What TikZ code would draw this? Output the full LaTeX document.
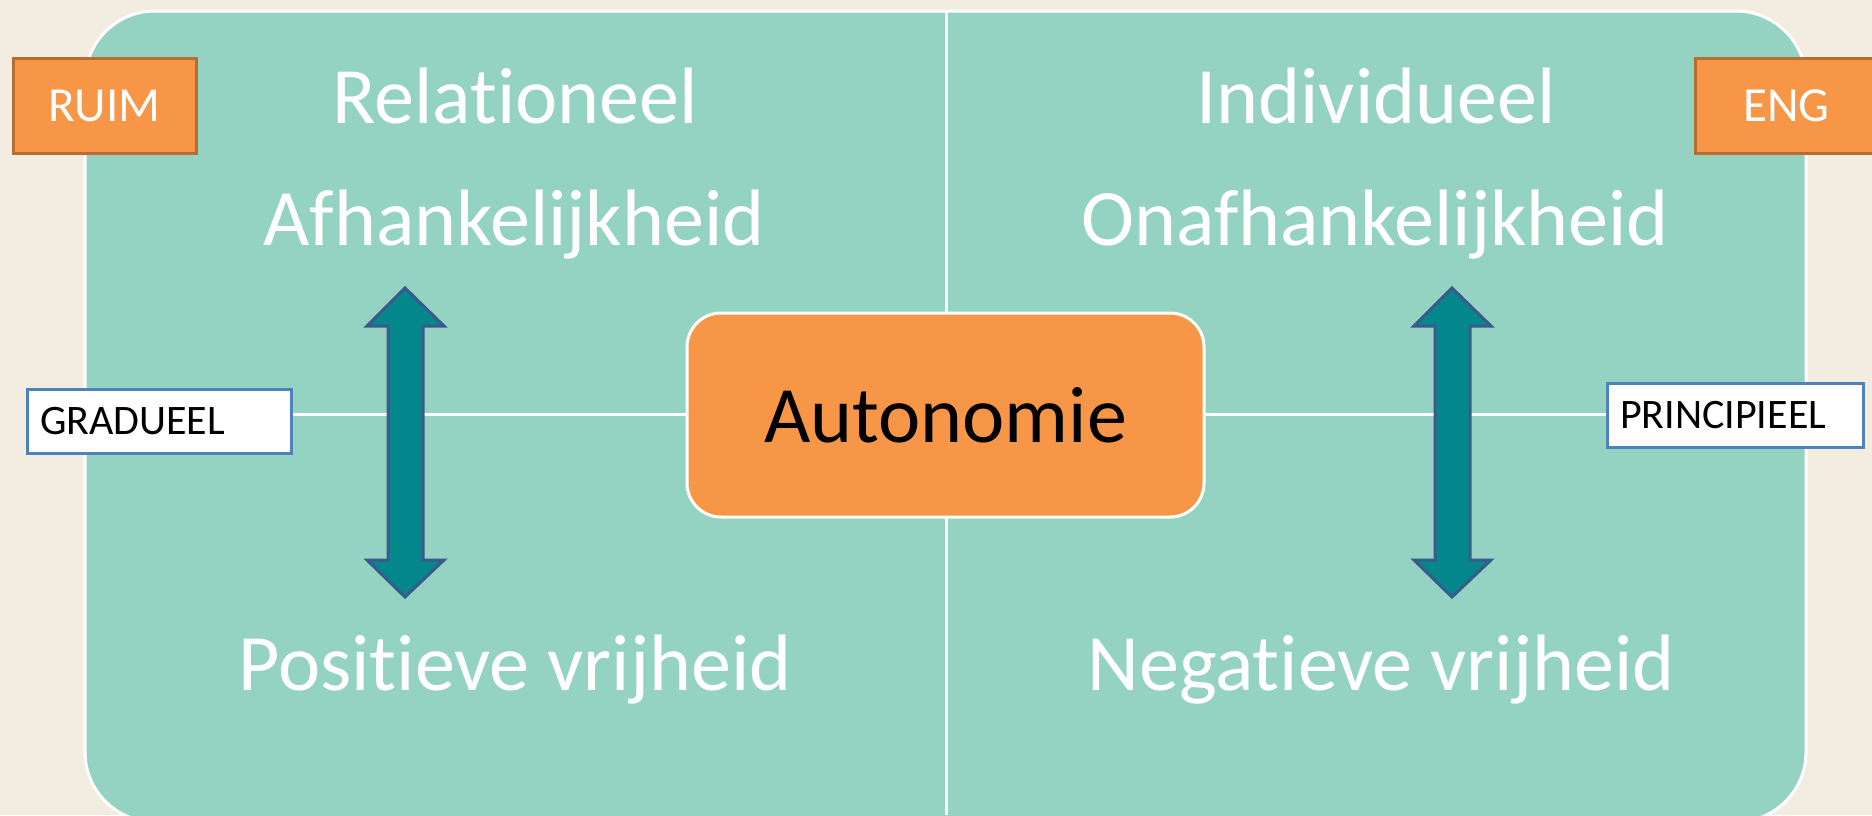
\documentclass[tikz,border=0pt]{standalone}
\usepackage{fontspec}
\setmainfont{Carlito}[Ligatures={NoCommon,NoContextual}]
\definecolor{bgbeige}{HTML}{F3ECE0}
\definecolor{quadfill}{HTML}{94D3C1}
\definecolor{orng}{HTML}{F79646}
\definecolor{orngdark}{HTML}{B66D31}
\definecolor{blueb}{HTML}{4F81BD}
\definecolor{arrowfill}{HTML}{04878A}
\definecolor{arrowline}{HTML}{3B5A8C}
\tikzset{
  maintext/.style={text=white, font=\fontsize{80}{96}\selectfont, inner sep=0pt, anchor=base},
  autobox/.style={draw=white, line width=3pt, fill=orng, rounded corners=34pt, text=black,
    font=\fontsize{80}{96}\selectfont, minimum width=517pt, minimum height=204pt, inner sep=0pt},
  tagbox/.style={draw=orngdark, line width=3pt, fill=orng, text=white,
    font=\fontsize{49}{58}\selectfont, minimum width=183pt, minimum height=95pt, inner sep=0pt},
  scalebox/.style={draw=blueb, line width=3pt, fill=white, text=black,
    font=\fontsize{42}{50}\selectfont, minimum height=64pt, inner xsep=13pt, inner ysep=0pt, align=left},
  bigarrow/.style={fill=arrowfill, draw=arrowline, line width=3pt, line join=miter},
  divider/.style={white, line width=3pt}
}
\begin{document}
\begin{tikzpicture}[x=1pt,y=-1pt]
\useasboundingbox (0,0) rectangle (1872,815);
\fill[bgbeige] (0,0) rectangle (1872,815);
\begin{scope}
  \clip (0,0) rectangle (1872,815);
  \draw[white, line width=3pt, fill=quadfill, rounded corners=70pt] (85,11) rectangle (1806,822);
  \coordinate (vtop) at (946,11);
  \coordinate (vbot) at (946,815);
  \coordinate (hleft) at (85,414);
  \coordinate (hright) at (1806,414);
  \draw[divider] (vtop) -- (vbot);
  \draw[divider] (hleft) -- (hright);
\end{scope}
% arrows
\draw[bigarrow] (405,288) -- (444,326) -- (423,326) -- (423,560) -- (444,560) -- (405,597)
  -- (367,560) -- (388,560) -- (388,326) -- (367,326) -- cycle;
\draw[bigarrow] (1452,288) -- (1491,326) -- (1470,326) -- (1470,560) -- (1491,560) -- (1452,597)
  -- (1414,560) -- (1435,560) -- (1435,326) -- (1414,326) -- cycle;
% center
\node[autobox] (auto) at (945.5,415) {Autonomie};
% texts
\node[maintext] (rel) at (515,123) {Relationeel};
\node[maintext] (afh) at (514,245) {Afhankelijkheid};
\node[maintext] (pos) at (515,690) {Positieve vrijheid};
\node[maintext] (ind) at (1376,123) {Individueel};
\node[maintext] (onafh) at (1375,245) {Onafhankelijkheid};
\node[maintext] (neg) at (1381,690) {Negatieve vrijheid};
% tags
\node[tagbox] (ruim) at (104.5,105.5) {RUIM};
\node[tagbox] (eng) at (1786.5,106) {ENG};
\node[scalebox, text width=238pt] (grad) at (159,421) {GRADUEEL};
\node[scalebox, text width=230pt] (princ) at (1735,415) {PRINCIPIEEL};
\end{tikzpicture}
\end{document}
